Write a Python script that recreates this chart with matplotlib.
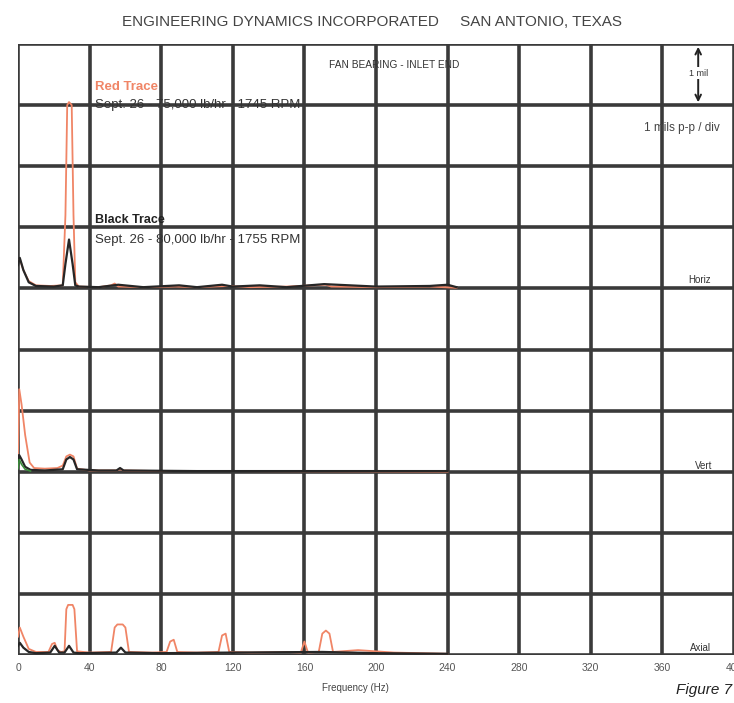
import matplotlib
matplotlib.use('Agg')
import matplotlib.pyplot as plt

plt.rcParams['font.family'] = ['Liberation Sans', 'DejaVu Sans']

# spectra, amplitude in divisions (1 div = 1 mil p-p)
horiz_red_f = [0, 1, 3, 6, 10, 18, 25, 26.5, 27.5, 28.5, 30, 31, 32, 34, 45, 52, 54, 56, 70, 88, 100, 118, 130, 150, 172, 175, 200, 230, 245]
horiz_red_a = [0.42, 0.48, 0.3, 0.12, 0.05, 0.04, 0.05, 1.2, 3.0, 3.05, 3.0, 1.2, 0.1, 0.03, 0.02, 0.05, 0.08, 0.03, 0.02, 0.03, 0.02, 0.04, 0.02, 0.03, 0.06, 0.03, 0.02, 0.03, 0.01]
horiz_blk_f = [0, 1, 3, 6, 10, 20, 25, 26.5, 28.5, 30.5, 32, 34, 45, 56, 70, 90, 100, 114, 120, 135, 150, 171, 200, 230, 240, 245]
horiz_blk_a = [0.38, 0.5, 0.3, 0.1, 0.04, 0.03, 0.05, 0.4, 0.8, 0.4, 0.05, 0.03, 0.02, 0.06, 0.02, 0.05, 0.02, 0.06, 0.03, 0.05, 0.02, 0.07, 0.03, 0.04, 0.06, 0.02]

vert_red_f = [0, 0.7, 2, 4, 6.5, 9, 15, 22, 25, 27, 29, 31, 33, 40, 55, 57, 59, 80, 120, 240]
vert_red_a = [0.3, 1.35, 1.1, 0.6, 0.15, 0.06, 0.05, 0.06, 0.1, 0.25, 0.28, 0.25, 0.05, 0.02, 0.02, 0.04, 0.02, 0.01, 0.01, 0.0]
vert_blk_f = [0, 0.7, 2, 4, 7, 15, 25, 27, 29, 31, 33, 45, 55, 57, 59, 100, 240]
vert_blk_a = [0.1, 0.27, 0.2, 0.08, 0.03, 0.02, 0.04, 0.2, 0.24, 0.2, 0.04, 0.02, 0.02, 0.06, 0.02, 0.01, 0.01]
vert_grn_f = [0, 0.7, 2, 4, 7]
vert_grn_a = [0.05, 0.2, 0.12, 0.04, 0.01]

axial_red_f = [0, 1, 3, 6, 10, 17, 19, 20.5, 22, 24, 26, 27, 28, 30.5, 31.5, 33, 40, 52, 54, 55.5, 58.5, 60, 62, 75, 83, 85, 87, 89,
               100, 112, 114, 116, 118, 130, 150, 158, 160, 162, 168, 170, 172, 174, 176, 190, 210, 240]
axial_red_a = [0.3, 0.45, 0.3, 0.1, 0.05, 0.05, 0.18, 0.2, 0.08, 0.05, 0.06, 0.75, 0.82, 0.82, 0.75, 0.06, 0.04, 0.05, 0.45, 0.5, 0.5, 0.45, 0.05, 0.04, 0.05, 0.22, 0.25, 0.05,
               0.04, 0.05, 0.32, 0.35, 0.05, 0.04, 0.05, 0.04, 0.22, 0.04, 0.05, 0.35, 0.4, 0.35, 0.05, 0.08, 0.04, 0.02]
axial_blk_f = [0, 1, 3, 6, 10, 18, 20.5, 23, 26, 28.5, 31, 34, 55, 57.5, 60, 80, 120, 170, 200, 240]
axial_blk_a = [0.15, 0.2, 0.12, 0.05, 0.03, 0.04, 0.15, 0.04, 0.04, 0.15, 0.04, 0.03, 0.04, 0.12, 0.04, 0.03, 0.04, 0.05, 0.03, 0.02]

offsets = {'Horiz': 6, 'Vert': 3, 'Axial': 0}
xticks = [0, 40, 80, 120, 160, 200, 240, 280, 320, 360, 400]

red = '#f08566'
blk = '#262626'
grid = '#3a3a3a'

fig = plt.figure(figsize=(7.34, 7.03), dpi=100)
ax = fig.add_axes([18 / 734, 48 / 703, 716 / 734, 611 / 703])
ax.set_xlim(0, 400)
ax.set_ylim(0, 10)

for x in xticks:
    ax.axvline(x, color=grid, lw=2.6, zorder=1)
for y in range(11):
    ax.axhline(y, color=grid, lw=2.6, zorder=1)
for s in ax.spines.values():
    s.set_visible(False)

def trace(f, a, off, color, lw=1.3, z=3):
    ax.plot(f, [v + off for v in a], color=color, lw=lw, zorder=z)

trace(horiz_red_f, horiz_red_a, offsets['Horiz'], red)
trace(horiz_blk_f, horiz_blk_a, offsets['Horiz'], blk, lw=1.6)
trace(vert_red_f, vert_red_a, offsets['Vert'], red)
trace(vert_blk_f, vert_blk_a, offsets['Vert'], blk, lw=1.6)
trace(vert_grn_f, vert_grn_a, offsets['Vert'], '#3b8a3b', lw=1.2)
trace(axial_red_f, axial_red_a, offsets['Axial'], red)
trace(axial_blk_f, axial_blk_a, offsets['Axial'], blk, lw=1.6)

ax.set_xticks(xticks)
ax.set_xticklabels([str(x) for x in xticks], fontsize=7.5, color='#555555')
ax.tick_params(axis='x', length=0, pad=6)
ax.set_yticks([])

# annotations
ax.text(43, 9.3, 'Red Trace', color=red, fontsize=9.5, fontweight='bold', va='center')
ax.text(43, 9.0, 'Sept. 26 - 75,000 lb/hr - 1745 RPM', color='#333333', fontsize=9.5, va='center')
ax.text(43, 7.12, 'Black Trace', color='#222222', fontsize=9, fontweight='bold', va='center')
ax.text(43, 6.8, 'Sept. 26 - 80,000 lb/hr - 1755 RPM', color='#333333', fontsize=9.5, va='center')
ax.text(210, 9.66, 'FAN BEARING - INLET END', color='#333333', fontsize=7.3, ha='center', va='center')

ax.annotate('', xy=(380, 10), xytext=(380, 9),
            arrowprops=dict(arrowstyle='<->', color='#222222', lw=1.4), zorder=4)
ax.text(380, 9.52, '1 mil', fontsize=6.5, ha='center', va='center', color='#333333',
        bbox=dict(facecolor='white', edgecolor='none', pad=1), zorder=5)
ax.text(371, 8.63, '1 mils p-p / div', fontsize=8.5, ha='center', va='center', color='#444444')

ax.text(381, 6.13, 'Horiz', fontsize=7, ha='center', va='center', color='#333333')
ax.text(383, 3.1, 'Vert', fontsize=7, ha='center', va='center', color='#333333')
ax.text(381, 0.12, 'Axial', fontsize=7, ha='center', va='center', color='#333333')

fig.text(372 / 734, 1 - 22 / 703, 'ENGINEERING DYNAMICS INCORPORATED     SAN ANTONIO, TEXAS',
         fontsize=11, ha='center', va='center', color='#444444')
fig.text(355 / 734, 1 - 688 / 703, 'Frequency (Hz)', fontsize=7, ha='center', va='center', color='#444444')
fig.text(732 / 734, 1 - 690 / 703, 'Figure 7', fontsize=11, ha='right', va='center', style='italic',
         color='#222222')

fig.savefig('out.png', dpi=100)
